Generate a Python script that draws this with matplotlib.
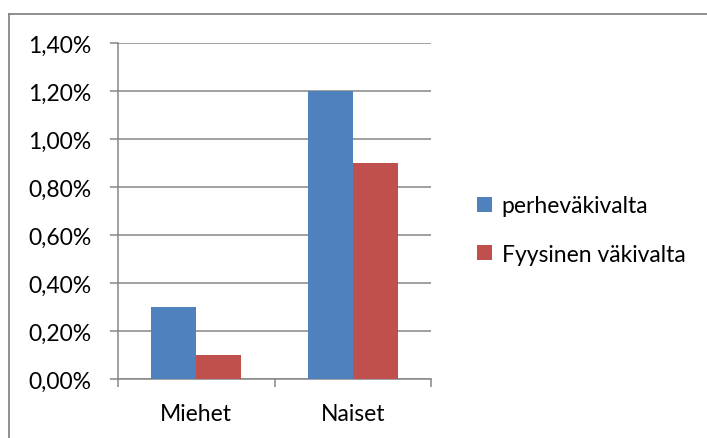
import matplotlib.pyplot as plt
from matplotlib.lines import Line2D
from matplotlib.ticker import FuncFormatter, FixedLocator
import numpy as np

categories = ["Miehet", "Naiset"]
series_names = ["perheväkivalta", "Fyysinen väkivalta"]
perhevakivalta = [0.30, 1.20]
fyysinen = [0.10, 0.90]
y_ticks = [0.0, 0.2, 0.4, 0.6, 0.8, 1.0, 1.2, 1.4]

blue = "#4F81BD"
red = "#C0504D"
grey = "#868686"

plt.rcParams['font.family'] = ['Lato', 'DejaVu Sans']
fs = 16.5

fig = plt.figure(figsize=(7.07, 4.39), dpi=100)
ax = fig.add_axes([118 / 707, 59 / 439, 313 / 707, 336 / 439])

x = np.arange(len(categories))
w = 0.2875
b1 = ax.bar(x - w / 2, perhevakivalta, w, color=blue, label=series_names[0], zorder=3)
b2 = ax.bar(x + w / 2, fyysinen, w, color=red, label=series_names[1], zorder=3)

ax.set_xlim(-0.5, 1.5)
ax.set_ylim(0, 1.4)
ax.set_yticks(y_ticks)
ax.yaxis.set_major_formatter(FuncFormatter(lambda v, p: f"{v:.2f}".replace(".", ",") + "%"))
ax.grid(axis='y', color=grey, linewidth=1.1, zorder=0)

ax.set_xticks([-0.5, 0.5, 1.5])
ax.set_xticklabels([])
ax.xaxis.set_minor_locator(FixedLocator(x))
ax.set_xticklabels(categories, minor=True)
ax.tick_params(axis='x', which='minor', length=0, pad=17, labelsize=fs)
ax.tick_params(axis='x', which='major', direction='out', length=6, width=1.1, color=grey)
ax.tick_params(axis='y', direction='out', length=6, width=1.1, color=grey, pad=13, labelsize=fs)

for s in ['top', 'right']:
    ax.spines[s].set_visible(False)
for s in ['left', 'bottom']:
    ax.spines[s].set_color(grey)
    ax.spines[s].set_linewidth(1.1)

fig.legend(handles=[b1, b2], loc='center left', bbox_to_anchor=(466 / 707, 1 - 231 / 439),
           frameon=False, fontsize=fs, handlelength=0.65, handleheight=0.65,
           handletextpad=0.4, labelspacing=1.2, borderpad=0)

# chart frame: only the top and left edges fall inside the picture
fig.add_artist(Line2D([9 / 707, 1], [1 - 15 / 439, 1 - 15 / 439], transform=fig.transFigure,
                      color=grey, linewidth=1.3))
fig.add_artist(Line2D([9 / 707, 9 / 707], [0, 1 - 15 / 439], transform=fig.transFigure,
                      color=grey, linewidth=1.3))

fig.savefig("out.png", dpi=100)
